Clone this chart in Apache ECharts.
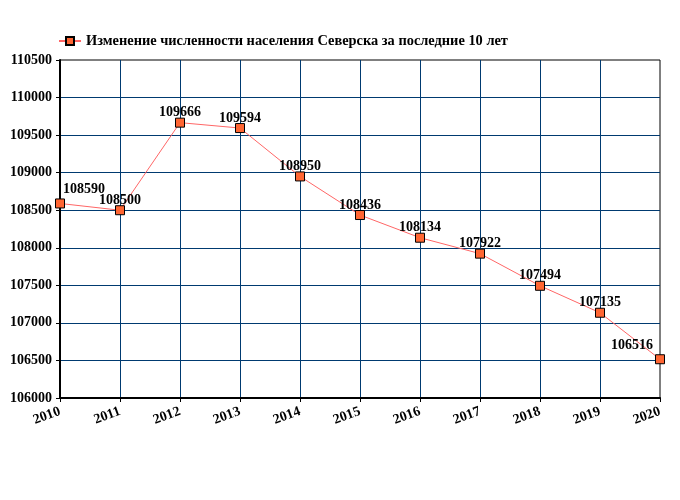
<!DOCTYPE html>
<html><head><meta charset="utf-8">
<script src="https://cdn.jsdelivr.net/npm/echarts@6/dist/echarts.min.js"></script>
<style>html,body{margin:0;padding:0;background:#fff}#c{width:680px;height:500px}</style>
</head><body><div id="c"></div>
<script>
const years = ['2010','2011','2012','2013','2014','2015','2016','2017','2018','2019','2020'];
const population = [108590,108500,109666,109594,108950,108436,108134,107922,107494,107135,106516];
const seriesName = 'Изменение численности населения Северска за последние 10 лет';
const labelOffsets = [[24,0],[0,4],[0,4],[0,4],[0,4],[0,4],[0,4],[0,4],[0,4],[0,4],[-28,0]];

const font = '"Liberation Serif","Times New Roman",serif';
const chart = echarts.init(document.getElementById('c'));
chart.setOption({
  animation:false,
  legend:{
    top:29, left:53, itemWidth:22, itemHeight:10, itemGap:5,
    textStyle:{fontFamily:font,fontWeight:'bold',fontSize:14.4,color:'#000'},
    data:[{name:seriesName}]
  },
  grid:{left:60,right:20,top:60,bottom:102,containLabel:false,show:true,borderColor:'#000',borderWidth:1},
  xAxis:{
    type:'category', data:years, boundaryGap:false,
    axisLine:{lineStyle:{color:'#000',width:2}},
    axisTick:{show:true,length:4,lineStyle:{color:'#000'}},
    axisLabel:{rotate:20,margin:13,fontFamily:font,fontWeight:'bold',fontSize:14,color:'#000'},
    splitLine:{show:true,showMinLine:false,showMaxLine:false,lineStyle:{color:'#003a70',width:1}}
  },
  yAxis:{
    type:'value', min:106000, max:110500, interval:500,
    axisLine:{show:true,lineStyle:{color:'#000',width:2}},
    axisTick:{show:true,length:4,lineStyle:{color:'#000'}},
    axisLabel:{margin:8,fontFamily:font,fontWeight:'bold',fontSize:14,color:'#000',formatter:v=>String(v)},
    splitLine:{show:true,showMinLine:false,showMaxLine:false,lineStyle:{color:'#003a70',width:1}}
  },
  series:[{
    name:seriesName, type:'line',
    data:population.map((v,i)=>({value:v,label:{offset:labelOffsets[i]}})),
    symbol:'rect', symbolSize:9,
    itemStyle:{color:'#ff6633',borderColor:'#000',borderWidth:1},
    lineStyle:{color:'#ff6666',width:1},
    label:{show:true,position:'top',distance:2,fontFamily:font,fontWeight:'bold',fontSize:14,color:'#000'}
  }]
});
</script></body></html>
